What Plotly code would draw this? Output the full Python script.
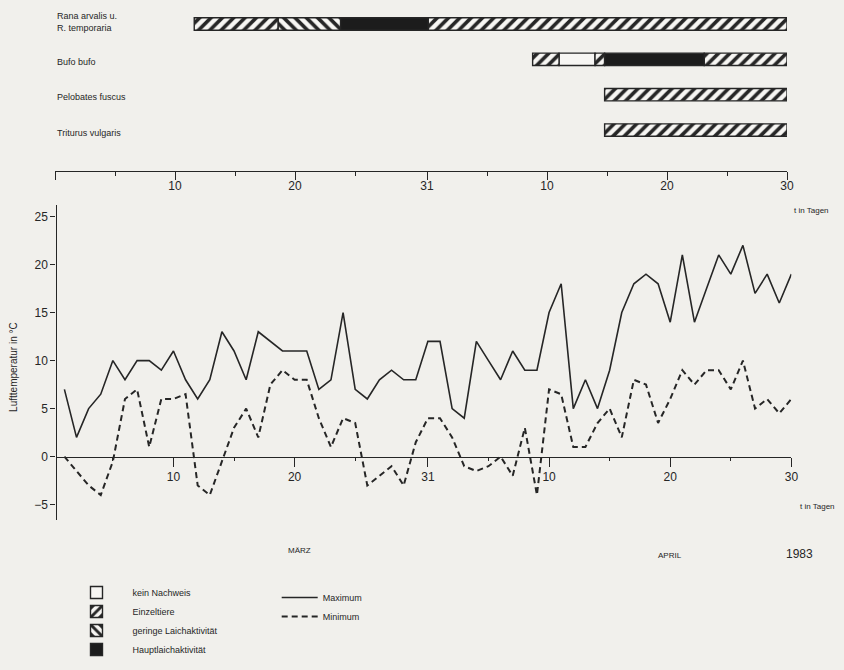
import plotly.graph_objects as go

W, H = 844, 670
BG = "#f1f0ec"
PAPER = "#f7f6f3"
INK = "#262626"
FONT = "Liberation Sans, Arial, sans-serif"

# ---------------- data ----------------
# day index: 1..31 = 1..31 March, 32..61 = 1..30 April 1983
days = list(range(1, 62))
t_max = [7, 2, 5, 6.5, 10, 8, 10, 10, 9, 11,
         8, 6, 8, 13, 11, 8, 13, 12, 11, 11,
         11, 7, 8, 15, 7, 6, 8, 9, 8, 8,
         12, 12, 5, 4, 12, 10, 8, 11, 9, 9,
         15, 18, 5, 8, 5, 9, 15, 18, 19, 18,
         14, 21, 14, 17.5, 21, 19, 22, 17, 19, 16,
         19]
t_min = [0, -1.5, -3, -4, -0.5, 6, 7, 1, 6, 6,
         6.5, -3, -4, -0.5, 3, 5, 2, 7.5, 9, 8,
         8, 4, 1, 4, 3.5, -3, -2, -1, -3, 1.5,
         4, 4, 2, -1, -1.5, -1, 0, -2, 3, -4,
         7, 6.5, 1, 1, 3.5, 5, 2, 8, 7.5, 3.5,
         6, 9, 7.5, 9, 9, 7, 10, 5, 6, 4.5,
         6]

species = ["Triturus vulgaris", "Pelobates fuscus", "Bufo bufo",
           "Rana arvalis u.<br>R. temporaria"]
RANA, BUFO, PELO, TRIT = species[3], species[2], species[1], species[0]

# activity segments: (species, first day, last day)
seg_kein = [(BUFO, 42, 45)]
seg_einzel = [(RANA, 11.6, 18.6), (RANA, 31.1, 61),
              (BUFO, 39.8, 42), (BUFO, 45, 45.8), (BUFO, 54.1, 61),
              (PELO, 45.8, 61), (TRIT, 45.8, 61)]
seg_gering = [(RANA, 18.6, 23.8)]
seg_haupt = [(RANA, 23.8, 31.1), (BUFO, 45.8, 54.1)]

tick_days = [10, 20, 31, 41, 51, 61]
tick_text = ["10", "20", "31", "10", "20", "30"]
minor_days = [5, 15, 25, 36, 46, 56]
temp_ticks = [-5, 0, 5, 10, 15, 20, 25]


def px(x):
    return x / W


def py(y):
    return 1 - y / H


fig = go.Figure()


def add_segments(segs, name, marker):
    fig.add_trace(go.Bar(
        orientation="h",
        y=[species.index(s[0]) for s in segs],
        base=[s[1] for s in segs],
        x=[s[2] - s[1] for s in segs],
        width=0.35,
        name=name,
        marker=marker,
        xaxis="x2", yaxis="y2",
        legend="legend",
        hoverinfo="skip",
    ))


line_m = dict(color=INK, width=1.4)
add_segments(seg_kein, "kein Nachweis", dict(color=PAPER, line=line_m))
add_segments(seg_einzel, "Einzeltiere",
             dict(color=PAPER, line=line_m,
                  pattern=dict(shape="/", size=8, solidity=0.45,
                               fgcolor=INK, bgcolor=PAPER, fillmode="replace")))
add_segments(seg_gering, "geringe Laichaktivität",
             dict(color=PAPER, line=line_m,
                  pattern=dict(shape="\\", size=8, solidity=0.45,
                               fgcolor=INK, bgcolor=PAPER, fillmode="replace")))
add_segments(seg_haupt, "Hauptlaichaktivität", dict(color="#1c1c1c", line=line_m))

fig.add_trace(go.Scatter(x=days, y=t_max, mode="lines", name="Maximum",
                         line=dict(color=INK, width=1.6),
                         xaxis="x", yaxis="y", legend="legend2"))
fig.add_trace(go.Scatter(x=days, y=t_min, mode="lines", name="Minimum",
                         line=dict(color=INK, width=2, dash="6px,4px"),
                         xaxis="x", yaxis="y", legend="legend2"))

axis_common = dict(showline=True, linecolor=INK, linewidth=1.3,
                   ticks="outside", tickcolor=INK, tickwidth=1.2,
                   showgrid=False, zeroline=False,
                   tickfont=dict(family=FONT, size=12, color=INK))

small = dict(family=FONT, size=9, color=INK)

fig.update_layout(
    width=W, height=H, autosize=False,
    margin=dict(l=0, r=0, t=0, b=0),
    paper_bgcolor=BG, plot_bgcolor="rgba(0,0,0,0)",
    font=dict(family=FONT, color=INK),
    barmode="overlay",
    xaxis=dict(domain=[px(57), px(798)], range=[0.35, 61],
               anchor="free", position=py(456.7),
               tickvals=tick_days, ticktext=tick_text, ticklen=9,
               minor=dict(tickvals=minor_days, ticklen=3, ticks="outside",
                          tickcolor=INK),
               **axis_common),
    yaxis=dict(domain=[py(520), py(205)], range=[-6.6, 26.2], anchor="x",
               tickvals=temp_ticks, ticklen=5, **axis_common),
    xaxis2=dict(domain=[px(55.5), px(793.6)], range=[0, 61],
                anchor="free", position=py(171),
                tickvals=[0] + tick_days, ticktext=[""] + tick_text, ticklen=8,
                ticklabelstandoff=-5,
                minor=dict(tickvals=minor_days, ticklen=4, ticks="outside",
                           tickcolor=INK),
                **axis_common),
    yaxis2=dict(domain=[py(171), py(4)], range=[-1.16, 3.566], anchor="x2",
                visible=False),
    legend=dict(x=px(61), y=py(578), xanchor="left", yanchor="top",
                bgcolor="rgba(0,0,0,0)", traceorder="normal", itemwidth=62,
                font=small),
    legend2=dict(x=px(279), y=py(583), xanchor="left", yanchor="top",
                 bgcolor="rgba(0,0,0,0)", traceorder="normal", itemwidth=36,
                 font=small),
    showlegend=True,
)

ann = []
label_y = {RANA: 22, BUFO: 62, PELO: 97, TRIT: 133}
for s, yy in label_y.items():
    ann.append(dict(text=s, x=px(55), y=py(yy), xref="paper", yref="paper",
                    xanchor="left", yanchor="middle", align="left",
                    showarrow=False, font=small))
ann += [
    dict(text="t in Tagen", x=px(838), y=py(211), xanchor="right"),
    dict(text="t in Tagen", x=px(844), y=py(506), xanchor="right"),
    dict(text="MÄRZ", x=px(302), y=py(550), xanchor="center"),
    dict(text="APRIL", x=px(676), y=py(555), xanchor="center"),
]
ann = [dict(a, xref="paper", yref="paper", yanchor="middle", showarrow=False,
            font=dict(size=8, family=FONT, color=INK)) if "font" not in a else a
       for a in ann]
ann.append(dict(text="1983", x=px(806), y=py(554), xref="paper", yref="paper",
                xanchor="center", yanchor="middle", showarrow=False,
                font=dict(size=12, family=FONT, color=INK)))
ann.append(dict(text="Lufttemperatur in °C", x=px(13), y=py(367),
                xref="paper", yref="paper", textangle=-90,
                xanchor="center", yanchor="middle", showarrow=False,
                font=dict(size=10, family=FONT, color=INK)))
fig.update_layout(annotations=ann)

fig.write_html("out.html", config={"displayModeBar": False},
               post_script="document.body.style.margin='0';"
                           "document.body.style.background='" + BG + "';")
